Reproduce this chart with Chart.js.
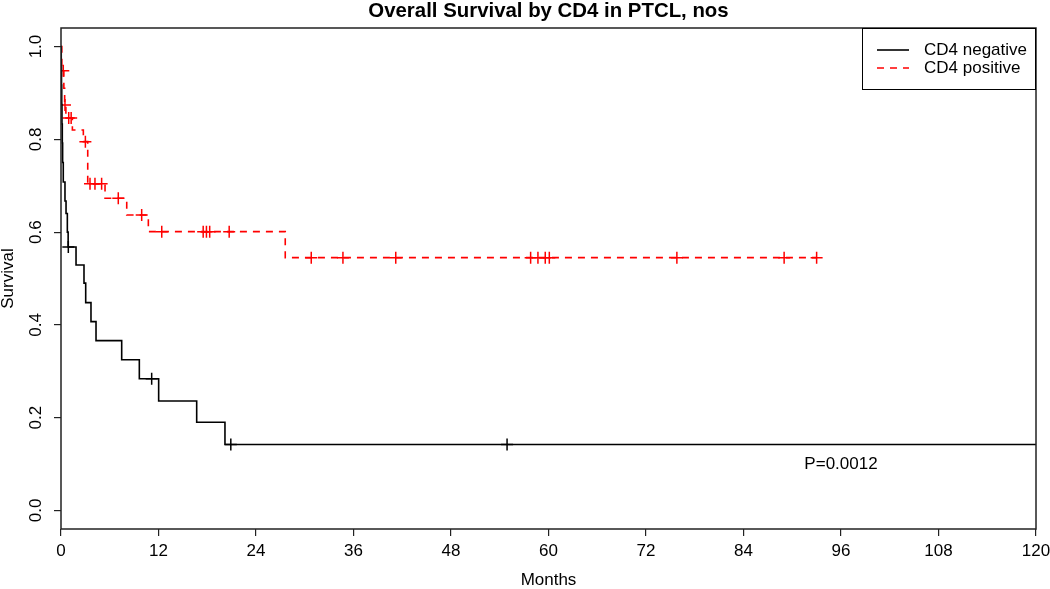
<!DOCTYPE html>
<html>
<head>
<meta charset="utf-8">
<title>Overall Survival by CD4 in PTCL, nos</title>
<script src="https://cdn.jsdelivr.net/npm/chart.js@4.4.1/dist/chart.umd.min.js"></script>
<style>
  html, body { margin: 0; padding: 0; background: #fff; }
  #wrap { width: 1050px; height: 589px; }
</style>
</head>
<body>
<div id="wrap"><canvas id="survChart" width="1050" height="589"></canvas></div>
<script>
const chartTitle = 'Overall Survival by CD4 in PTCL, nos';
const seriesLabels = ['CD4 negative', 'CD4 positive'];
const pValueText = 'P=0.0012';

const monthTicks = [0, 12, 24, 36, 48, 60, 72, 84, 96, 108, 120];
const survivalTicks = [0, 0.2, 0.4, 0.6, 0.8, 1.0];
const survivalTickLabels = ['0.0', '0.2', '0.4', '0.6', '0.8', '1.0'];

// CD4 negative: month of each step and survival after it
const negMonths = [0, 0.03, 0.06, 0.09, 0.12, 0.16, 0.2, 0.28, 0.49, 0.62, 0.78, 0.88, 1.85, 2.83, 3.04, 3.69, 4.31, 7.47, 9.64, 12.02, 16.7, 20.18, 120];
const negSurvival = [1, 0.958, 0.917, 0.875, 0.833, 0.792, 0.75, 0.708, 0.667, 0.64, 0.6, 0.568, 0.529, 0.49, 0.448, 0.407, 0.366, 0.325, 0.284, 0.236, 0.19, 0.142, 0.142];
const negCensored = [0.9, 11.16, 20.9, 54.9];

// CD4 positive
const posMonths = [0, 0.1, 0.35, 0.45, 0.6, 1.4, 2.75, 3.29, 5.42, 8.09, 10.75, 27.6, 93.0];
const posSurvival = [1, 0.948, 0.91, 0.874, 0.846, 0.82, 0.795, 0.704, 0.673, 0.637, 0.601, 0.545, 0.545];
const posCensored = [0.28, 0.49, 0.95, 1.25, 3.0, 3.57, 4.18, 5.0, 7.05, 9.93, 12.4, 17.5, 17.9, 18.3, 20.7, 30.8, 34.7, 41.2, 57.8, 58.7, 59.6, 60.1, 75.8, 89.0, 93.0];

// where the p-value note sits, in data units
const pValueAt = { month: 96, survival: 0.1 };

const fontFamily = '"Liberation Sans", Arial, Helvetica, sans-serif';

function survivalAt(months, surv, t) {
    let s = surv[0];
    for (let i = 0; i < months.length; i++) {
        if (months[i] <= t) s = surv[i];
    }
    return s;
}

function toPoints(xs, ys) {
    return xs.map((x, i) => ({ x: x, y: ys[i] }));
}

function censorPoints(times, months, surv) {
    return times.map(t => ({ x: t, y: survivalAt(months, surv, t) }));
}

// frame, title, p-value and the boxed legend, drawn R-style
const plotDecor = {
    id: 'plotDecor',
    afterDraw(chart) {
        const { ctx, chartArea: a, scales } = chart;
        const ds = chart.data.datasets;
        ctx.save();
        ctx.strokeStyle = '#222';
        ctx.lineWidth = 1.5;
        ctx.strokeRect(a.left, a.top, a.right - a.left, a.bottom - a.top);

        ctx.fillStyle = '#000';
        ctx.textAlign = 'center';
        ctx.textBaseline = 'middle';
        ctx.font = 'bold 20.4px ' + fontFamily;
        ctx.fillText(chartTitle, (a.left + a.right) / 2, 11);

        ctx.font = '17px ' + fontFamily;
        ctx.fillText(pValueText,
            scales.x.getPixelForValue(pValueAt.month),
            scales.y.getPixelForValue(pValueAt.survival));

        const bw = 174, bh = 62;
        const bx = a.right - bw, by = a.top;
        ctx.fillStyle = '#fff';
        ctx.fillRect(bx, by, bw, bh);
        ctx.strokeStyle = '#000';
        ctx.lineWidth = 1;
        ctx.strokeRect(bx + 0.5, by + 0.5, bw - 1, bh - 1);
        [0, 1].forEach(i => {
            const yy = by + 22 + i * 18;
            ctx.strokeStyle = ds[i].borderColor;
            ctx.lineWidth = ds[i].borderWidth;
            ctx.setLineDash(ds[i].borderDash || []);
            ctx.beginPath();
            ctx.moveTo(bx + 15, yy);
            ctx.lineTo(bx + 47, yy);
            ctx.stroke();
            ctx.setLineDash([]);
            ctx.fillStyle = '#000';
            ctx.textAlign = 'left';
            ctx.fillText(ds[i].label, bx + 62, yy);
        });
        ctx.restore();
    }
};

Chart.defaults.font.family = fontFamily;
Chart.defaults.font.size = 17;
Chart.defaults.color = '#000';

const survData = {
    datasets: [
        {
            label: seriesLabels[0],
            data: toPoints(negMonths, negSurvival),
            showLine: true,
            stepped: 'before',
            borderColor: 'rgb(0,0,0)',
            borderWidth: 1.6,
            pointRadius: 0,
            fill: false,
        },
        {
            label: seriesLabels[1],
            data: toPoints(posMonths, posSurvival),
            showLine: true,
            stepped: 'before',
            borderColor: 'rgb(255,0,0)',
            borderWidth: 1.6,
            borderDash: [7, 6],
            pointRadius: 0,
            fill: false,
        },
        {
            label: 'neg censored',
            data: censorPoints(negCensored, negMonths, negSurvival),
            showLine: false,
            pointStyle: 'cross',
            pointRadius: 6,
            borderColor: 'rgb(0,0,0)',
            borderWidth: 1.5,
        },
        {
            label: 'pos censored',
            data: censorPoints(posCensored, posMonths, posSurvival),
            showLine: false,
            pointStyle: 'cross',
            pointRadius: 6,
            borderColor: 'rgb(255,0,0)',
            borderWidth: 1.5,
        }
    ]
};

const survConfig = {
    type: 'scatter',
    data: survData,
    options: {
        responsive: false,
        animation: false,
        devicePixelRatio: 1,
        layout: { padding: { top: 28, right: 14, bottom: 0, left: 0 } },
        plugins: {
            legend: { display: false },
            title: { display: false },
            tooltip: { enabled: false },
        },
        scales: {
            x: {
                type: 'linear',
                min: 0,
                max: 120,
                afterBuildTicks: scale => { scale.ticks = monthTicks.map(v => ({ value: v })); },
                afterFit: scale => { scale.height = 60; scale.paddingLeft = 0; scale.paddingRight = 0; },
                ticks: { padding: 5, maxRotation: 0, callback: v => String(v) },
                grid: { drawOnChartArea: false, drawTicks: true, tickLength: 7, color: '#222', lineWidth: 1.2 },
                border: { display: false },
                title: { display: true, text: 'Months', font: { size: 17, lineHeight: 1 }, padding: 0 },
            },
            y: {
                type: 'linear',
                min: -0.04,
                max: 1.04,
                afterBuildTicks: scale => { scale.ticks = survivalTicks.map(v => ({ value: v })); },
                afterFit: scale => { scale.width = 61; scale.paddingTop = 0; scale.paddingBottom = 0; },
                ticks: {
                    padding: 5.5,
                    minRotation: 90,
                    maxRotation: 90,
                    crossAlign: 'center',
                    callback: (v, i) => survivalTickLabels[i],
                },
                grid: { drawOnChartArea: false, drawTicks: true, tickLength: 7, color: '#222', lineWidth: 1.2 },
                border: { display: false },
                title: { display: true, text: 'Survival', font: { size: 17, lineHeight: 1 }, padding: 0 },
            }
        }
    },
    plugins: [plotDecor]
};

const survChart = new Chart(
    document.getElementById('survChart'),
    survConfig
);
</script>
</body>
</html>
